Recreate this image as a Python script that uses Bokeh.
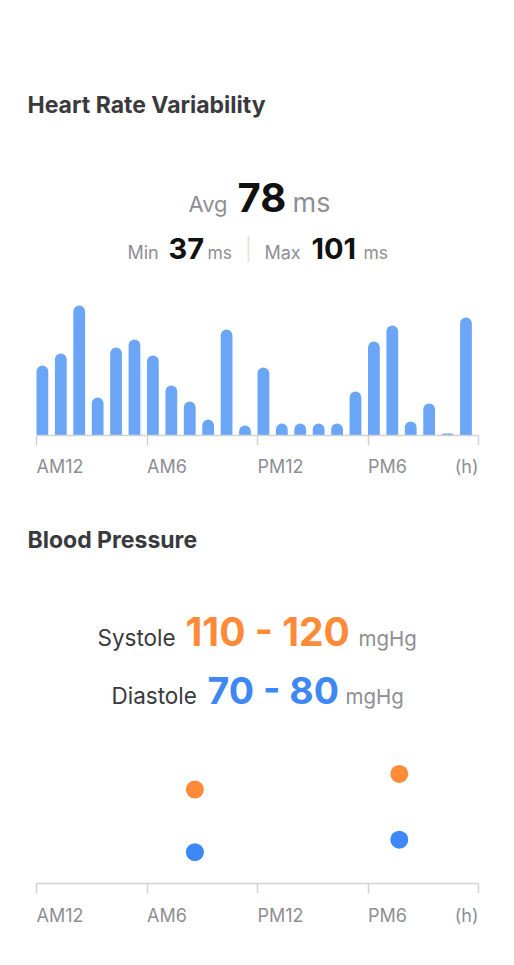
from bokeh.plotting import figure
from bokeh.layouts import column
from bokeh.models import Range1d, FixedTicker, LabelSet, ColumnDataSource
from bokeh.transform import dodge
from bokeh.embed import file_html
from bokeh.resources import INLINE

# hourly heart rate variability (ms), one bar per hour starting at midnight
hours = list(range(24))
hrv_ms = [71, 77, 101, 55, 80, 84, 76, 61, 53, 44, 89, 41,
          70, 42, 42, 42, 42, 58, 83, 91, 43, 52, 37, 95]
hrv_avg, hrv_min, hrv_max = 78, 37, 101

# blood pressure readings (mmHg)
bp_hours = [8.6, 19.7]
systolic = [110, 120]
diastolic = [70, 78]
sys_range = (110, 120)
dia_range = (70, 80)

tick_hours = [0, 6, 12, 18, 24]
tick_labels = ["AM12", "AM6", "PM12", "PM6", "(h)"]

FONT = "Inter"
DARK = "#3a3a3c"
BLACK = "#111111"
GRAY = "#8e8e93"
AXIS = "#d1d3d8"
BAR = "#6ba6f6"
ORANGE = "#ff8b39"
BLUE = "#3d88f5"

W = 498
BL, BR = 36, 20           # space left / right of the hour axis
PXH = (W - BL - BR) / 24  # pixels per hour


def x_range():
    return Range1d(-BL / PXH, 24 + BR / PXH)


def text_fig(height):
    # frame is the whole canvas, used for the texts
    p = figure(width=W, height=height, output_backend="svg", toolbar_location=None,
               x_range=x_range(), y_range=Range1d(0, 1),
               x_axis_location=None, y_axis_location=None, min_border=0)
    p.outline_line_color = None
    p.grid.visible = False
    return p


def chart_fig(frame_h, y_range):
    p = figure(width=W, height=frame_h + 16, x_range=x_range(), y_range=y_range,
               output_backend="svg", toolbar_location=None,
               x_axis_location="below", y_axis_location=None,
               min_border_left=0, min_border_right=0,
               min_border_top=0, min_border_bottom=16)
    p.outline_line_color = None
    p.grid.visible = False
    ax = p.xaxis[0]
    ax.bounds = (0, 24)
    ax.ticker = FixedTicker(ticks=tick_hours)
    ax.axis_line_color = AXIS
    ax.axis_line_width = 1.5
    ax.major_tick_line_color = AXIS
    ax.major_tick_line_width = 1.5
    ax.major_tick_out = 10
    ax.major_tick_in = 0
    ax.minor_tick_line_color = None
    # hour labels are drawn in the text rows below, left aligned
    ax.major_label_standoff = 0
    ax.major_label_text_font_size = "2px"
    ax.major_label_text_color = None
    return p


def add_texts(p, items):
    # items: (text, x, baseline y from the figure top, size, color, bold, align)
    # x is in pixels, or ("h", hour) for a position on the hour axis
    xs = [it[1][1] if isinstance(it[1], tuple) else (it[1] - BL) / PXH for it in items]
    d = dict(
        x=xs,
        y=[p.height - it[2] for it in items],
        t=[it[0] for it in items],
        size=[f"{it[3]}px" for it in items],
        color=[it[4] for it in items],
        style=["bold" if it[5] else "normal" for it in items],
        align=[it[6] for it in items],
        font=[FONT] * len(items),
    )
    p.add_layout(LabelSet(x="x", y="y", y_units="screen", text="t",
                          source=ColumnDataSource(d), text_font="font",
                          text_font_size="size", text_color="color",
                          text_font_style="style", text_align="align",
                          text_baseline="alphabetic"))


def hour_items(y):
    aligns = ["left"] * (len(tick_hours) - 1) + ["right"]
    return [(lab, ("h", h), y, 18, GRAY, False, a)
            for lab, h, a in zip(tick_labels, tick_hours, aligns)]


# header of the heart rate section (page y 0..290)
h1 = text_fig(290)
add_texts(h1, [
    ("Heart Rate Variability", 27, 112, 23, DARK, True, "left"),
    ("Avg", 188, 211, 22, GRAY, False, "left"),
    (str(hrv_avg), 237, 211, 40, BLACK, True, "left"),
    ("ms", 292, 211, 27, GRAY, False, "left"),
    ("Min", 127, 258, 18, GRAY, False, "left"),
    (str(hrv_min), 168, 258, 29, BLACK, True, "left"),
    ("ms", 207, 258, 17.5, GRAY, False, "left"),
    ("|", 248, 256, 22, "#e3e3e8", False, "center"),
    ("Max", 264, 258, 18, GRAY, False, "left"),
    (str(hrv_max), 311, 258, 29, BLACK, True, "left"),
    ("ms", 363, 258, 17.5, GRAY, False, "left"),
])

# heart rate bars (frame page y 290..435)
c1 = chart_fig(145, Range1d(36, 108.5))
src = ColumnDataSource(dict(hour=hours, hrv=hrv_ms))
c1.vbar(x=dodge("hour", 0.32), top="hrv", bottom=36, width=0.64, source=src,
        color=BAR, line_color=None, border_radius=(6, 6, 0, 0))

# hour labels + blood pressure header (page y 451..750)
top = 451
m = text_fig(750 - top)
add_texts(m, hour_items(472.5 - top) + [
    ("Blood Pressure", 27, 547 - top, 23, DARK, True, "left"),
    ("Systole", 97, 645 - top, 22.5, DARK, False, "left"),
    (f"{sys_range[0]} - {sys_range[1]}", 185, 645 - top, 39, ORANGE, True, "left"),
    ("mgHg", 358, 645 - top, 20.5, GRAY, False, "left"),
    ("Diastole", 111, 703 - top, 22.5, DARK, False, "left"),
    (f"{dia_range[0]} - {dia_range[1]}", 207, 703 - top, 37.5, BLUE, True, "left"),
    ("mgHg", 345, 703 - top, 20.5, GRAY, False, "left"),
])

# blood pressure dots (frame page y 750..883)
c2 = chart_fig(133, Range1d(50, 135))
c2.scatter(bp_hours, systolic, size=18, color=ORANGE, line_color=None)
c2.scatter(bp_hours, diastolic, size=18, color=BLUE, line_color=None)

# hour labels (page y 899..960)
f = text_fig(61)
add_texts(f, hour_items(921 - 899))

layout = column(h1, c1, m, c2, f, spacing=0)
open("out.html", "w").write(file_html(layout, INLINE))
